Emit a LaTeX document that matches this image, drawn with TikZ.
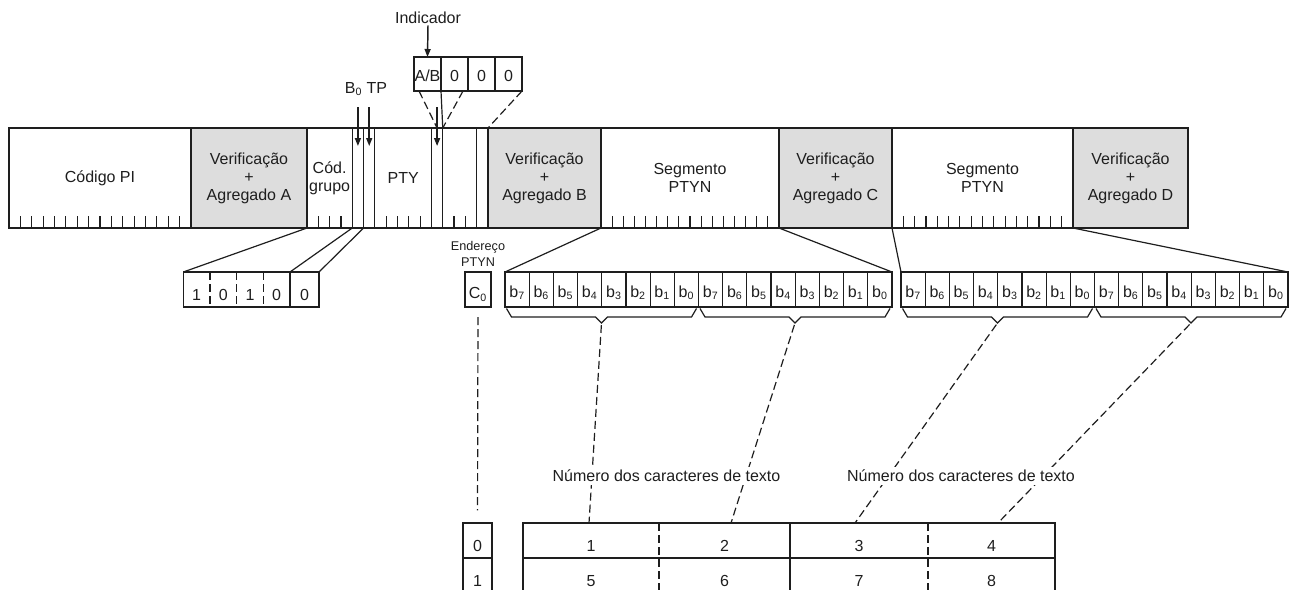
\documentclass[tikz,border=0pt]{standalone}
\usepackage{fontspec}
\setmainfont{Liberation Sans}
\usetikzlibrary{arrows.meta,calc}
\definecolor{chkgray}{RGB}{221,221,221}
\definecolor{ink}{RGB}{30,30,30}
\newcommand\mainfs{\fontsize{12}{13.5}\selectfont}
\newcommand\smallfs{\fontsize{9.5}{12}\selectfont}
\newcommand\segticks[3]{\foreach \i in {1,...,#3}{\draw (#1.south west) ++(\i*#2,0) -- ++(0,-12.5);}}
\newcommand\bytebrace[3]{%
  \coordinate (#3a) at ($(#1.south west)+(1.5,1.5)$);
  \coordinate (#3b) at ($(#2.south east)+(-2,1.5)$);
  \coordinate (#3) at ($(#3a)!0.5!(#3b)+(0,14.5)$);
  \draw (#3a) -- ++(5,8.5) -- ($(#3)+(-6,-6)$) -- (#3) -- ($(#3)+(6,-6)$) -- ($(#3b)+(-5,8.5)$) -- (#3b);}
\begin{document}
\begin{tikzpicture}[x=0.75pt,y=-0.75pt, line width=0.9pt, color=ink, font=\mainfs,
  pxw/.style={minimum width=#1*0.75pt},
  pxh/.style={minimum height=#1*0.75pt},
  segbox/.style={draw, rectangle, inner sep=0pt, outer sep=0pt, anchor=north west, minimum height=75pt, align=center},
  chkbox/.style={segbox, fill=chkgray},
  cellbox/.style={rectangle, inner sep=0pt, outer sep=0pt, anchor=north west, minimum height=26.25pt},
  lowdig/.style={text height=16.5pt, text depth=0pt},
  middig/.style={text height=11.6pt, text depth=0pt},
  dig/.style={text height=8.6pt, text depth=0pt},
  arr/.style={line width=1.1pt, -{Triangle[length=6pt,width=4.5pt]}},
  dsh/.style={dash pattern=on 6pt off 3pt},
  blank/.style={fill=white, inner sep=2pt}]
\useasboundingbox (0,0) rectangle (1295,589);
\clip (0,0) rectangle (1295,589);

% ---------- main bar ----------
\node[segbox, pxw=182] (PI) at (9,128) {Código PI};
\node[chkbox, pxw=116] (VA) at (191,128) {Verificação\\+\\Agregado A};
\node[segbox, pxw=45.25] (GRP) at (307,128) {Cód.\\grupo};
\node[segbox, pxw=11.3125] (B0) at (352.25,128) {};
\node[segbox, pxw=11.3125] (TP) at (363.5625,128) {};
\node[segbox, pxw=56.5625] (PTY) at (374.875,128) {PTY};
\node[segbox, pxw=11.3125] (AB) at (431.4375,128) {};
\node[segbox, pxw=33.9375] (SP) at (442.75,128) {};
\node[segbox, pxw=11.3125] (C0b) at (476.6875,128) {};
\node[chkbox, pxw=113] (VB) at (488,128) {Verificação\\+\\Agregado B};
\node[segbox, pxw=178] (PT1) at (601,128) {Segmento\\PTYN};
\node[chkbox, pxw=113] (VC) at (779,128) {Verificação\\+\\Agregado C};
\node[segbox, pxw=181] (PT2) at (892,128) {Segmento\\PTYN};
\node[chkbox, pxw=115] (VD) at (1073,128) {Verificação\\+\\Agregado D};

\segticks{PI}{11.375}{15}
\segticks{GRP}{11.3125}{3}
\segticks{PTY}{11.3125}{4}
\segticks{SP}{11.3125}{2}
\segticks{PT1}{11.125}{15}
\segticks{PT2}{11.3125}{15}

% ---------- indicator ----------
\node[inner sep=1pt] (indlbl) at (428,17.5) {Indicador};
\foreach \k/\t in {1/A\slash B,2/0,3/0,4/0}{
  \node[cellbox, draw, pxw=27, pxh=34, middig] (ind\k) at ({414+(\k-1)*27},57) {\t};}
\draw[arr] (indlbl.south) -- (ind1.north);
\draw[dsh] ($(ind1.south west)+(5,0)$) -- (AB.north);
\draw[dsh] ($(ind2.south east)+(-5,0)$) -- (SP.north west);
\draw[dsh] (ind4.south east) -- (C0b.north east);
\draw (ind1.south east) -- (AB.north east);

\node[dig] (b0tp) at (366,87.5) {B\textsubscript{0} TP};
\draw[arr] ($(B0.north)+(0,-21)$) -- ($(B0.north)+(0,18)$);
\draw[arr] ($(TP.north)+(0,-21)$) -- ($(TP.north)+(0,18)$);
\draw[arr] ($(AB.north)+(0,-21)$) -- ($(AB.north)+(0,18)$);

% ---------- group code box ----------
\foreach \k/\t in {1/1,2/0,3/1,4/0}{
  \node[cellbox, pxw=26.675, lowdig] (g\k) at ({183.3+(\k-1)*26.675},272) {\t};}
\node[cellbox, draw, pxw=29, lowdig] (g5) at (290,272) {0};
\draw (g1.north west) rectangle (g4.south east);
\foreach \k in {1,2,3}{\draw[dsh] (g\k.north east) -- (g\k.south east);}
\draw (VA.south east) -- (g1.north west);
\draw (B0.south west) -- (g5.north west);
\draw (B0.south east) -- (g5.north east);

% ---------- PTYN address ----------
\node[font=\smallfs, align=center, inner sep=1pt] (endlbl) at (478,254) {Endereço\\PTYN};
\node[cellbox, draw, pxw=26, text height=13.8pt, text depth=0pt] (c0box) at (465,272) {C\textsubscript{0}};

% ---------- bit boxes ----------
\foreach \i in {1,...,16}{
  \pgfmathtruncatemacro\bb{7-mod(\i-1,8)}
  \node[cellbox, draw, pxw=24.1875, middig] (ba\i) at ({505+(\i-1)*24.1875},272) {b\textsubscript{\bb}};
  \node[cellbox, draw, pxw=24.1875, middig] (bb\i) at ({901+(\i-1)*24.1875},272) {b\textsubscript{\bb}};}
\draw (VB.south east) -- (ba1.north west);
\draw (VC.south west) -- (ba16.north east);
\draw (VC.south east) -- (bb1.north west);
\draw (VD.south west) -- (bb16.north east);

\bytebrace{ba1}{ba8}{tipA}
\bytebrace{ba9}{ba16}{tipB}
\bytebrace{bb1}{bb8}{tipC}
\bytebrace{bb9}{bb16}{tipD}

% ---------- bottom tables ----------
\node[cellbox, draw, pxw=29, lowdig] (s0) at (463,523) {0};
\node[cellbox, draw, pxw=29, lowdig] (s1) at (463,558) {1};
\draw[dsh, shorten <=7.5pt, shorten >=9.5pt] (c0box.south) -- (s0.north);

\node[cellbox, pxw=136, lowdig] (t1) at (523,523) {1};
\node[cellbox, pxw=131, lowdig] (t2) at (659,523) {2};
\node[cellbox, pxw=138, lowdig] (t3) at (790,523) {3};
\node[cellbox, pxw=127, lowdig] (t4) at (928,523) {4};
\node[cellbox, pxw=136, lowdig] (t5) at (523,558) {5};
\node[cellbox, pxw=131, lowdig] (t6) at (659,558) {6};
\node[cellbox, pxw=138, lowdig] (t7) at (790,558) {7};
\node[cellbox, pxw=127, lowdig] (t8) at (928,558) {8};
\draw (t1.north west) rectangle (t4.south east);
\draw (t5.north west) rectangle (t8.south east);
\draw[dsh] (t1.north east) -- (t5.south east);
\draw (t2.north east) -- (t6.south east);
\draw[dsh] (t3.north east) -- (t7.south east);

\draw[dsh, shorten <=1.5pt] (tipA) -- ($(t1.north)+(-2,0)$);
\draw[dsh, shorten <=1.5pt] (tipB) -- ($(t2.north)+(6.5,0)$);
\draw[dsh, shorten <=1.5pt] (tipC) -- ($(t3.north)+(-4,0)$);
\draw[dsh, shorten <=1.5pt] (tipD) -- ($(t4.north)+(6.5,0)$);

\node[blank] (num1) at (666.5,476) {Número dos caracteres de texto};
\node[blank] (num2) at (961,476) {Número dos caracteres de texto};
\end{tikzpicture}
\end{document}
